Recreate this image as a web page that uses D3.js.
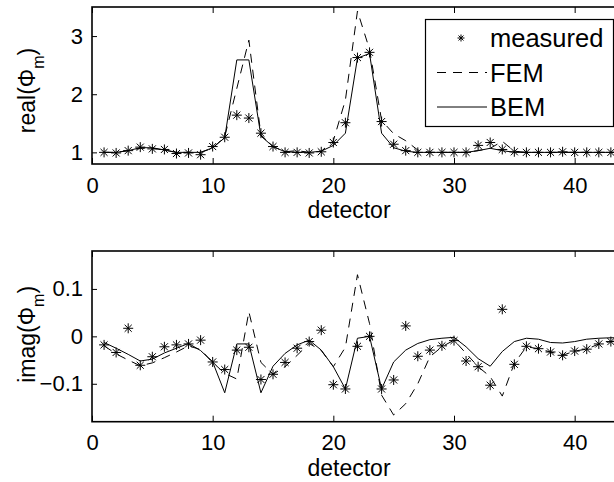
<!DOCTYPE html>
<html lang="en">
<head>
    <meta charset="UTF-8">
    <title>Detector comparison</title>
    <script src="https://d3js.org/d3.v7.min.js"></script>
    <style>
        body { margin: 0; background: #fff; }
        text { font-family: "Liberation Sans", Arial, sans-serif; fill: #000; }
    </style>
</head>
<body>
    <div id="chart"></div>
    <script>
        // detector numbers
        const detectors = d3.range(1, 45);

        // real part
        const realMeasured = [1.00, 0.99, 1.03, 1.09, 1.06, 1.05, 0.98, 0.99, 0.96, 1.10, 1.26, 1.64, 1.59, 1.33, 1.10, 1.00, 1.00, 0.99, 1.01, 1.17, 1.51, 2.63, 2.72, 1.53, 1.14, 1.03, 1.00, 1.00, 1.00, 1.00, 1.00, 1.12, 1.17, 1.05, 1.01, 1.00, 1.00, 1.00, 1.01, 1.00, 1.00, 1.00, 1.00, 1.00];
        const realFEM = [1.00, 1.00, 1.03, 1.07, 1.07, 1.04, 1.00, 1.00, 1.00, 1.07, 1.27, 2.10, 2.93, 1.30, 1.10, 1.01, 1.03, 1.00, 1.02, 1.20, 1.90, 3.43, 2.77, 1.55, 1.32, 1.20, 1.04, 1.00, 1.00, 1.00, 1.00, 1.03, 1.07, 1.19, 1.02, 1.00, 1.00, 1.00, 1.00, 1.00, 1.00, 1.00, 1.00, 1.00];
        const realBEM = [1.00, 1.00, 1.03, 1.08, 1.08, 1.04, 1.00, 1.00, 1.00, 1.08, 1.25, 2.59, 2.59, 1.28, 1.10, 1.01, 1.00, 1.00, 1.02, 1.12, 1.33, 2.62, 2.70, 1.33, 1.08, 1.02, 1.00, 1.00, 1.00, 1.00, 1.00, 1.03, 1.07, 1.03, 1.00, 1.00, 1.00, 1.00, 1.00, 1.00, 1.00, 1.00, 1.00, 1.00];

        // imaginary part
        const imagMeasured = [-0.018, -0.034, 0.017, -0.061, -0.043, -0.022, -0.018, -0.016, -0.008, -0.054, -0.070, -0.029, -0.023, -0.091, -0.080, -0.055, -0.025, -0.011, 0.013, -0.102, -0.111, -0.021, 0.000, -0.111, -0.092, 0.022, -0.042, -0.029, -0.020, -0.009, -0.052, -0.064, -0.103, 0.057, -0.059, -0.021, -0.026, -0.033, -0.040, -0.031, -0.027, -0.016, -0.011, -0.008];
        const imagFEM = [-0.020, -0.037, -0.050, -0.062, -0.056, -0.045, -0.033, -0.020, -0.028, -0.055, -0.078, -0.090, 0.052, -0.055, -0.080, -0.064, -0.040, -0.015, -0.030, -0.064, -0.023, 0.130, 0.027, -0.124, -0.166, -0.142, -0.100, -0.043, -0.022, -0.008, -0.036, -0.064, -0.085, -0.126, -0.057, -0.022, -0.026, -0.033, -0.040, -0.031, -0.027, -0.016, -0.011, -0.008];
        const imagBEM = [-0.013, -0.025, -0.038, -0.052, -0.048, -0.035, -0.025, -0.015, -0.030, -0.054, -0.119, -0.016, -0.016, -0.119, -0.063, -0.036, -0.018, -0.008, -0.029, -0.064, -0.111, -0.004, 0.000, -0.111, -0.054, -0.029, -0.015, -0.007, -0.004, -0.002, -0.022, -0.047, -0.063, -0.032, -0.011, -0.004, -0.006, -0.013, -0.014, -0.011, -0.006, -0.004, -0.003, -0.003];

        // ticks and labels
        const xTicks = [0, 10, 20, 30, 40];
        const realTicks = [1, 2, 3];
        const imagTicks = [-0.1, 0, 0.1];
        const legendLabels = ['measured', 'FEM', 'BEM'];

        const width = 614;
        const height = 482;
        const tickFont = "22px";
        const labelFont = "23px";

        const svg = d3.select('#chart')
            .append('svg')
            .attr('width', width)
            .attr('height', height);

        // MATLAB style asterisk marker
        function star(r) {
            const a = r * 0.7071;
            return `M${-r},0L${r},0M0,${-r}L0,${r}M${-a},${-a}L${a},${a}M${-a},${a}L${a},${-a}`;
        }

        function drawPanel(opts) {
            const x = d3.scaleLinear().domain([0, 45]).range([92, 635]);
            const y = d3.scaleLinear().domain(opts.yDomain).range([opts.bottom, opts.top]);
            const g = svg.append('g');

            const clipId = 'clip-' + opts.name;
            svg.append('clipPath').attr('id', clipId)
                .append('rect')
                .attr('x', x(0)).attr('y', opts.top)
                .attr('width', x(45) - x(0)).attr('height', opts.bottom - opts.top);

            const plot = g.append('g').attr('clip-path', `url(#${clipId})`);
            const line = d3.line().x((d, i) => x(detectors[i])).y(d => y(d));

            // FEM dashed
            plot.append('path')
                .datum(opts.fem)
                .attr('d', line)
                .attr('fill', 'none')
                .attr('stroke', '#000')
                .attr('stroke-width', 1)
                .attr('stroke-dasharray', '9,7');

            // BEM solid
            plot.append('path')
                .datum(opts.bem)
                .attr('d', line)
                .attr('fill', 'none')
                .attr('stroke', '#000')
                .attr('stroke-width', 1);

            // measured stars
            plot.selectAll('path.star')
                .data(opts.measured)
                .join('path')
                .attr('class', 'star')
                .attr('d', star(5))
                .attr('transform', (d, i) => `translate(${x(detectors[i])},${y(d)})`)
                .attr('fill', 'none')
                .attr('stroke', '#000')
                .attr('stroke-width', 1);

            // bottom axis with inward ticks
            const xAxis = g.append('g')
                .attr('transform', `translate(0,${opts.bottom})`)
                .call(d3.axisBottom(x).tickValues(xTicks).tickSizeInner(-6).tickSizeOuter(0).tickPadding(13));
            xAxis.selectAll('text').attr('font-size', tickFont).attr('font-family', null);

            // top axis (ticks only)
            g.append('g')
                .attr('transform', `translate(0,${opts.top})`)
                .call(d3.axisTop(x).tickValues(xTicks).tickSizeInner(-6).tickSizeOuter(0).tickFormat(''));

            // left axis
            const yAxis = g.append('g')
                .attr('transform', `translate(${x(0)},0)`)
                .call(d3.axisLeft(y).tickValues(opts.yTicks).tickSizeInner(-5).tickSizeOuter(0).tickPadding(9)
                    .tickFormat(d => d < 0 ? '\u2212' + Math.abs(d) : String(d)));
            yAxis.selectAll('text').attr('font-size', tickFont).attr('font-family', null);

            g.selectAll('.domain').remove();
            g.selectAll('.tick line').attr('stroke', '#000').attr('stroke-width', 1);

            // axes box
            g.append('rect')
                .attr('x', x(0)).attr('y', opts.top)
                .attr('width', x(45) - x(0)).attr('height', opts.bottom - opts.top)
                .attr('fill', 'none')
                .attr('stroke', '#000')
                .attr('stroke-width', 1.6);

            // x label
            g.append('text')
                .attr('x', 349)
                .attr('y', opts.bottom + 54)
                .attr('text-anchor', 'middle')
                .attr('font-size', labelFont)
                .text('detector');

            // y label with subscript
            const yl = g.append('text')
                .attr('transform', `translate(35,${(opts.top + opts.bottom) / 2 + opts.labelShift}) rotate(-90)`)
                .attr('text-anchor', 'middle')
                .attr('font-size', labelFont);
            yl.append('tspan').text(opts.yLabel + '(\u03A6');
            yl.append('tspan').attr('dy', 9).attr('font-size', '16px').text('m');
            yl.append('tspan').attr('dy', -9).text(')');

            return { x, y };
        }

        drawPanel({
            name: 'real', top: 7, bottom: 164, yDomain: [0.8, 3.5], yTicks: realTicks,
            measured: realMeasured, fem: realFEM, bem: realBEM, yLabel: 'real', labelShift: 5
        });
        drawPanel({
            name: 'imag', top: 251, bottom: 421.7, yDomain: [-0.18, 0.18], yTicks: imagTicks,
            measured: imagMeasured, fem: imagFEM, bem: imagBEM, yLabel: 'imag', labelShift: -2
        });

        // legend
        const legend = svg.append('g');
        legend.append('rect')
            .attr('x', 425.5).attr('y', 19.5)
            .attr('width', 188).attr('height', 107)
            .attr('fill', '#fff')
            .attr('stroke', '#000')
            .attr('stroke-width', 1.2);

        const rows = legend.selectAll('g.row')
            .data(legendLabels)
            .join('g')
            .attr('class', 'row')
            .attr('transform', (d, i) => `translate(0,${38 + i * 34.5})`);

        rows.filter((d, i) => i === 0).append('path')
            .attr('d', star(3.5))
            .attr('transform', 'translate(461,0)')
            .attr('fill', 'none').attr('stroke', '#000').attr('stroke-width', 1);
        rows.filter((d, i) => i > 0).append('line')
            .attr('x1', 437).attr('x2', 487)
            .attr('stroke', '#000').attr('stroke-width', 1)
            .attr('stroke-dasharray', (d, i) => i === 0 ? '9,7' : null);
        rows.append('text')
            .attr('x', 490)
            .attr('y', 9)
            .attr('font-size', '25.5px')
            .text(d => d);
    </script>
</body>
</html>
